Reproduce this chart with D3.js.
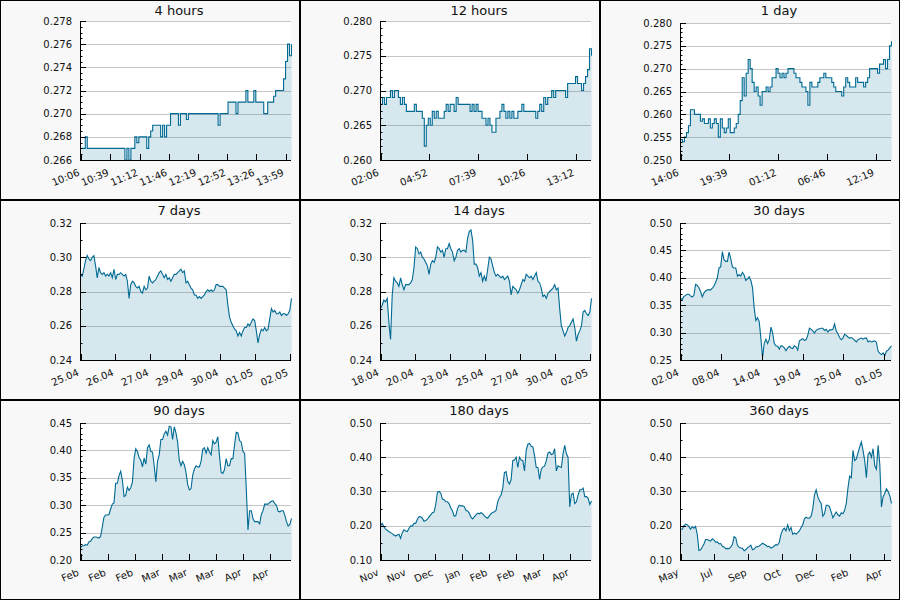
<!DOCTYPE html>
<html><head><meta charset="utf-8">
<script src="https://cdn.jsdelivr.net/npm/d3@7"></script>
<style>body{margin:0;background:#fff}svg{display:block}text{font-family:"DejaVu Sans",sans-serif}</style>
</head><body><svg id="c" width="900" height="600"></svg>
<script>
const titles = ["4 hours","12 hours","1 day","7 days","14 days","30 days","90 days","180 days","360 days"];
const durations = [14400,43200,86400,604800,1209600,2592000,7776000,15552000,31104000];
const tickSteps = [2000,10000,20000,100000,200000,500000,1000000,2000000,5000000];
const xTickLabels = [
  ["10:06","10:39","11:12","11:46","12:19","12:52","13:26","13:59"],
  ["02:06","04:52","07:39","10:26","13:12"],
  ["14:06","19:39","01:12","06:46","12:19"],
  ["25.04","26.04","27.04","29.04","30.04","01.05","02.05"],
  ["18.04","20.04","23.04","25.04","27.04","30.04","02.05"],
  ["02.04","08.04","14.04","19.04","25.04","01.05"],
  ["Feb","Feb","Feb","Mar","Mar","Mar","Apr","Apr"],
  ["Nov","Nov","Dec","Jan","Feb","Feb","Mar","Apr"],
  ["May","Jul","Sep","Oct","Dec","Feb","Apr"]
];
const yDomains = [[0.266,0.278],[0.260,0.280],[0.250,0.280],[0.24,0.32],[0.24,0.32],[0.25,0.50],[0.20,0.45],[0.10,0.50],[0.10,0.50]];
const yMajorSteps = [0.002,0.005,0.005,0.02,0.02,0.05,0.05,0.1,0.1];
const yMinorSteps = [0.0005,0.001,0.001,0.01,0.01,0.01,0.01,0.05,0.05];
const yFormats = [".3f",".3f",".3f",".2f",".2f",".2f",".2f",".2f",".2f"];
const stepped = [true,true,true,false,false,false,false,false,false];

const s4h = [.267,.267,.268,.267,
.267,.267,.267,.267,.267,.267,.267,.267,.267,.267,.267,.267,.267,.267,.267,.267,.267,.267,
.266,.267,.266,.267,.267,.268,.2675,.268,.268,.268,.268,.267,.268,.2685,.269,.269,.269,.269,.268,.269,.268,.269,.269,
.270,.270,.270,.270,.269,.270,.270,.270,.2695,
.270,.270,.270,.270,.270,.270,.270,.270,.270,.270,.270,.270,.270,.270,.270,
.269,.270,.270,.270,.270,.271,.271,.271,.271,.270,.271,.271,.271,.271,.272,.271,.271,.271,.272,.271,.271,.271,.271,.270,.270,.271,.271,.271,.2715,.272,.272,.272,.272,.273,.2745,.276,.275,.276];
const s12h = [.268,.269,.268,.269,.269,.270,.269,.270,.270,.269,
.268,.269,.268,.267,.267,.267,.267,.268,.267,.267,
.267,.266,.262,.265,.266,.265,.267,.266,.267,.266,
.266,.266,.267,.268,.267,.268,.268,.267,.269,.268,
.268,.268,.268,.268,.268,.267,.268,.267,.268,.267,
.267,.266,.266,.265,.266,.265,.264,.264,.266,.266,
.267,.268,.267,.266,.267,.266,.267,.266,.266,.267,
.267,.268,.267,.267,.267,.267,.267,.267,.266,.267,
.268,.267,.269,.268,.269,.269,.270,.269,.270,.270,
.270,.270,.270,.269,.271,.271,.271,.271,.272,.271,
.271,.270,.271,.272,.273,.276,.275];
const s1d = [.2545,.254,.255,.256,.2575,.261,.261,.260,.260,.260,
.2585,.259,.258,.258,.259,.257,.258,.259,.258,.255,
.259,.257,.256,.257,.259,.256,.256,.257,.258,.260,
.263,.268,.264,.269,.272,.270,.267,.265,.266,.264,
.262,.265,.265,.266,.265,.266,.268,.268,.270,.269,
.268,.269,.268,.269,.270,.270,.270,.269,.268,.268,
.267,.266,.266,.265,.262,.267,.266,.266,.266,.267,
.268,.268,.269,.268,.268,.268,.267,.266,.265,.265,
.265,.264,.266,.268,.267,.266,.266,.266,.268,.267,
.267,.267,.266,.267,.268,.270,.270,.270,.270,.269,
.271,.271,.272,.270,.272,.275,.276];
const s7d = [.290,.289,.293,.298,.301,.299,.298,.300,.301,.295,
.288,.294,.291,.290,.291,.289,.290,.289,.291,.288,
.293,.287,.290,.290,.291,.290,.289,.290,.286,.276,
.284,.286,.285,.283,.282,.283,.280,.279,.283,.281,
.282,.289,.286,.285,.286,.287,.289,.291,.292,.290,
.288,.290,.287,.288,.286,.288,.290,.290,.291,.292,
.293,.291,.292,.285,.286,.284,.282,.281,.278,.278,
.276,.277,.276,.277,.278,.280,.281,.280,.281,.280,
.281,.284,.284,.283,.283,.283,.282,.281,.272,.265,
.262,.260,.258,.257,.254,.256,.254,.257,.259,.259,
.261,.260,.262,.264,.263,.257,.250,.255,.258,.257,
.259,.257,.258,.264,.270,.268,.269,.267,.267,.268,
.266,.267,.267,.266,.267,.269,.276];
const s14d = [.270,.272,.275,.274,.276,.262,.252,.278,.288,.286,
.285,.283,.288,.284,.281,.284,.284,.284,.285,.287,
.294,.306,.305,.302,.303,.300,.299,.297,.295,.290,
.296,.298,.297,.300,.306,.305,.303,.304,.300,.305,
.305,.308,.305,.303,.298,.300,.304,.305,.303,.304,
.304,.303,.311,.315,.316,.310,.296,.296,.294,.289,
.291,.286,.289,.286,.293,.300,.299,.295,.291,.289,
.290,.289,.288,.289,.287,.288,.289,.286,.278,.283,
.282,.281,.279,.281,.284,.287,.286,.290,.289,.288,
.289,.287,.289,.291,.286,.285,.282,.277,.278,.276,
.279,.280,.281,.282,.284,.281,.282,.270,.260,.257,
.254,.256,.259,.260,.262,.264,.259,.251,.255,.257,
.260,.268,.269,.267,.266,.268,.276];
const s30d = [.363,.360,.366,.368,.370,.370,.367,.365,.368,.388,
.386,.382,.375,.365,.372,.376,.378,.378,.378,.381,
.385,.392,.400,.418,.420,.448,.433,.430,.430,.447,
.435,.420,.418,.418,.403,.406,.403,.410,.405,.395,
.398,.402,.395,.382,.345,.322,.327,.320,.290,.255,
.280,.288,.280,.287,.310,.300,.280,.276,.275,.270,
.276,.275,.272,.267,.272,.275,.272,.271,.276,.274,
.268,.285,.287,.289,.286,.287,.295,.308,.306,.303,
.299,.304,.306,.307,.308,.308,.304,.306,.301,.305,
.305,.306,.316,.303,.298,.291,.287,.290,.297,.295,
.292,.290,.291,.289,.286,.283,.287,.289,.290,.288,
.290,.290,.283,.285,.283,.284,.285,.282,.266,.262,
.260,.263,.258,.266,.268,.272,.276];
const s90d = [.222,.226,.226,.228,.227,.233,.234,.239,.242,.242,
.241,.240,.243,.260,.278,.282,.282,.283,.293,.302,
.304,.340,.340,.354,.362,.346,.316,.318,.333,.327,
.332,.342,.385,.403,.398,.387,.382,.370,.386,.375,
.405,.410,.398,.397,.372,.343,.380,.392,.420,.420,
.430,.435,.428,.444,.443,.420,.443,.432,.415,.382,
.372,.380,.374,.360,.338,.328,.330,.355,.366,.372,
.370,.370,.380,.402,.405,.395,.405,.397,.392,.418,
.412,.415,.425,.390,.360,.358,.365,.385,.372,.372,
.385,.385,.410,.433,.432,.418,.415,.398,.395,.330,
.255,.290,.290,.275,.270,.270,.270,.266,.283,.290,
.302,.302,.302,.305,.307,.308,.303,.300,.289,.288,
.290,.290,.282,.270,.262,.265,.276];
const s180d = [.200,.207,.198,.190,.187,.183,.180,.177,.173,.170,
.173,.175,.163,.180,.188,.185,.183,.192,.200,.199,
.207,.207,.218,.227,.226,.222,.213,.215,.219,.226,
.232,.238,.240,.262,.298,.300,.295,.278,.276,.270,
.270,.264,.252,.243,.228,.230,.250,.260,.258,.258,
.256,.245,.243,.237,.225,.220,.226,.232,.237,.235,
.238,.235,.229,.225,.222,.229,.235,.239,.241,.245,
.270,.282,.290,.310,.355,.358,.330,.322,.335,.390,
.392,.400,.370,.400,.392,.390,.360,.420,.438,.440,
.432,.430,.405,.370,.370,.335,.365,.372,.374,.390,
.412,.415,.408,.410,.425,.360,.375,.372,.370,.410,
.435,.410,.400,.255,.292,.295,.265,.270,.290,.305,
.305,.310,.285,.285,.280,.262,.272];
const s360d = [.190,.190,.200,.205,.203,.198,.190,.197,.193,.198,
.175,.128,.130,.138,.147,.160,.160,.157,.155,.162,
.158,.152,.153,.147,.148,.140,.138,.133,.134,.133,
.138,.145,.168,.165,.143,.137,.135,.134,.127,.130,
.136,.139,.143,.130,.132,.138,.139,.141,.145,.149,
.146,.143,.139,.140,.135,.137,.141,.145,.144,.152,
.175,.188,.193,.185,.203,.186,.195,.175,.179,.175,
.180,.185,.195,.203,.220,.225,.222,.222,.228,.250,
.290,.305,.285,.273,.265,.228,.235,.260,.260,.255,
.240,.223,.232,.240,.232,.228,.238,.235,.245,.265,
.310,.345,.340,.420,.390,.395,.413,.430,.445,.420,
.390,.340,.408,.415,.400,.425,.375,.365,.435,.380,
.255,.285,.295,.308,.300,.287,.265];

const series = [s4h,s12h,s1d,s7d,s14d,s30d,s90d,s180d,s360d];

const svg = d3.select("#c");
const LINE = "#006a93";
series.forEach((vals, i) => {
  const col = i % 3, row = Math.floor(i / 3);
  const g = svg.append("g").attr("transform", `translate(${col*300},${row*200})`);
  g.append("rect").attr("x",0.5).attr("y",0.5).attr("width",299).attr("height",199)
    .attr("fill","#f8f8f8").attr("stroke","#000").attr("stroke-width",1);
  const top = (row === 0 && col < 2) ? 21 : 23;
  const L = 80, R = 291, B = 160;
  g.append("rect").attr("x",L).attr("y",top).attr("width",R-L).attr("height",B-top).attr("fill","#fff");
  const x = d3.scaleLinear().domain([0, durations[i]]).range([i === 0 ? 81.3 : 80.5, 291.5]);
  const y = d3.scaleLinear().domain(yDomains[i]).range([B, top]);
  const [lo, hi] = yDomains[i];
  const nMaj = Math.round((hi - lo) / yMajorSteps[i]);
  const majors = d3.range(nMaj + 1).map(k => lo + k * yMajorSteps[i]);
  const nMin = Math.round((hi - lo) / yMinorSteps[i]);
  const minors = d3.range(nMin + 1).map(k => lo + k * yMinorSteps[i]);

  g.append("g").selectAll("line").data(majors.slice(1)).join("line")
    .attr("x1",L).attr("x2",R).attr("y1",d=>Math.round(y(d))+0.5).attr("y2",d=>Math.round(y(d))+0.5)
    .attr("stroke","#c6c6c6").attr("stroke-width",1);

  const clipId = "clip" + i;
  g.append("clipPath").attr("id",clipId).append("rect").attr("x",L).attr("y",top-1).attr("width",R-L+1).attr("height",B-top+1);
  const n = vals.length;
  const pts = vals.map((v, k) => [k * durations[i] / (n - 1), v]);
  const curve = stepped[i] ? d3.curveStepAfter : d3.curveLinear;
  const area = d3.area().x(d=>x(d[0])).y0(B).y1(d=>y(d[1])).curve(curve);
  const line = d3.line().x(d=>x(d[0])).y(d=>y(d[1])).curve(curve);
  const pg = g.append("g").attr("clip-path",`url(#${clipId})`);
  pg.append("path").datum(pts).attr("d",area).attr("fill",LINE).attr("fill-opacity",0.16);
  pg.append("path").datum(pts).attr("d",line).attr("fill","none").attr("stroke",LINE).attr("stroke-width",1.1);

  g.append("line").attr("x1",L+0.5).attr("x2",L+0.5).attr("y1",top).attr("y2",B+0.5).attr("stroke","#000");
  g.append("line").attr("x1",L).attr("x2",R).attr("y1",B+0.5).attr("y2",B+0.5).attr("stroke","#000");
  g.append("g").selectAll("line").data(minors).join("line")
    .attr("x1",L).attr("x2",L+2.5).attr("y1",d=>Math.round(y(d))+0.5).attr("y2",d=>Math.round(y(d))+0.5).attr("stroke","#000");
  g.append("g").selectAll("line").data(majors).join("line")
    .attr("x1",L).attr("x2",L+6).attr("y1",d=>Math.round(y(d))+0.5).attr("y2",d=>Math.round(y(d))+0.5).attr("stroke","#000");
  const fmt = d3.format(yFormats[i]);
  g.append("g").selectAll("text").data(majors).join("text")
    .attr("x",72).attr("y",d=>y(d)).attr("dy","0.36em").attr("text-anchor","end")
    .attr("font-size",10).attr("fill","#111").text(d=>fmt(d));
  const xt = xTickLabels[i].map((lab, k) => ({t: k * tickSteps[i], lab}));
  g.append("g").selectAll("line").data(xt).join("line")
    .attr("x1",d=>Math.round(x(d.t))+0.5).attr("x2",d=>Math.round(x(d.t))+0.5).attr("y1",B).attr("y2",B-6).attr("stroke","#000");
  g.append("g").selectAll("text").data(xt).join("text")
    .attr("transform",d=>`translate(${x(d.t)-1},175) rotate(-23)`)
    .attr("text-anchor","end").attr("font-size",10).attr("fill","#111").text(d=>d.lab);
  g.append("text").attr("x",179).attr("y",15).attr("text-anchor","middle").attr("font-size",13).attr("fill","#111").text(titles[i]);
});
</script></body></html>
